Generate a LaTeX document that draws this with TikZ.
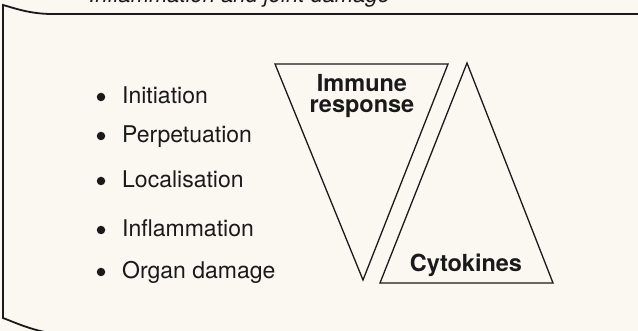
\documentclass[tikz,border=0pt]{standalone}
\usepackage{fontspec}
\setmainfont{TeX Gyre Heros}
\usepackage{tikz}
\usetikzlibrary{positioning,calc}
\definecolor{paper}{HTML}{FBF8F2}
\definecolor{ink}{HTML}{1A1A1A}
\tikzset{
    frame/.style={
        draw=ink,
        line width=1.8pt
    },
    tri/.style={
        draw=ink,
        line width=1.3pt,
        line join=miter
    },
    item/.style={
        anchor=base west,
        inner sep=0pt,
        text=ink,
        font=\fontsize{23}{27}\selectfont
    },
    dot/.style={
        circle,
        fill=ink,
        inner sep=0pt,
        minimum size=8.5pt
    },
    lbl/.style={
        anchor=base,
        align=center,
        inner sep=0pt,
        text=ink,
        font=\fontsize{23.5}{21}\selectfont\bfseries
    },
    title/.style={
        anchor=base east,
        inner sep=0pt,
        text=ink,
        font=\fontsize{22}{25}\selectfont\itshape
    }
}

\begin{document}
\begin{tikzpicture}[x=1pt,y=-1pt]

\fill[paper] (0,0) rectangle (638,331);
\useasboundingbox (0,0) rectangle (638,331);
\clip (0,0) rectangle (638,331);

% cut-off caption and frame
\node[title] (caption) at (390,3) {Inflammation and joint damage};
\draw[frame] (640,14) -- (52,14)
    .. controls (30,14) and (14,8) .. (3,5) -- (3,318)
    .. controls (14,322) and (30,330) .. (55,334);

% list
\node[item] (init) at (122,104) {Initiation};
\node[item] (perp) at (122,143) {Perpetuation};
\node[item] (local) at (122,188) {Localisation};
\node[item] (inflam) at (122,237) {Inflammation};
\node[item] (organ) at (122,279) {Organ damage};
\foreach \i in {init,perp,local,inflam,organ}
    \node[dot] at ($(\i.base west)+(-21,-7)$) {};

% triangles
\coordinate (imm-a) at (275,64);
\coordinate (imm-b) at (448,64);
\coordinate (imm-c) at (363,280);
\coordinate (cyt-a) at (467,63);
\coordinate (cyt-b) at (380,283);
\coordinate (cyt-c) at (553,283);
\draw[tri] (imm-a) -- (imm-b) -- (imm-c) -- cycle;
\draw[tri] (cyt-a) -- (cyt-b) -- (cyt-c) -- cycle;

\node[lbl] (immune) at (362,113) {Immune\\response};
\node[lbl] (cyto) at (466,272) {Cytokines};

\end{tikzpicture}
\end{document}
